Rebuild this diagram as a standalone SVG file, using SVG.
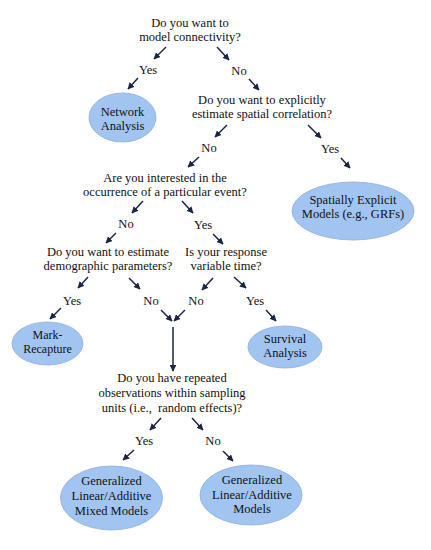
<svg xmlns="http://www.w3.org/2000/svg" width="431" height="550" viewBox="0 0 431 550">
<defs>
<marker id="ah" viewBox="0 0 10 10" refX="9" refY="5" markerWidth="4.5" markerHeight="4.5" orient="auto" markerUnits="strokeWidth">
<path d="M0,0 L10,5 L0,10 z" fill="#1b2442"/>
</marker>
<style>
text{font-family:"Liberation Serif","Times New Roman",serif;font-size:12.5px;fill:#111;text-anchor:middle}
.n{fill:#a2c4f1;stroke:#8eaedb;stroke-width:0.8}
.c line{stroke:#1b2442;stroke-width:1.5;marker-end:url(#ah)}
</style>
</defs>
<rect width="431" height="550" fill="#fff"/>
<g id="q1"><text x="190" y="27">Do you want to</text><text x="190" y="41">model connectivity?</text></g>
<g id="l1"><text x="148" y="74">Yes</text></g>
<g id="l2"><text x="239" y="75">No</text></g>
<g id="networkAnalysis"><ellipse class="n" cx="122.5" cy="117.5" rx="33.5" ry="24.5"/><text x="122.5" y="116">Network</text><text x="122.5" y="130">Analysis</text></g>
<g id="q2"><text x="262" y="104">Do you want to explicitly</text><text x="262" y="118">estimate spatial correlation?</text></g>
<g id="l3"><text x="209" y="152">No</text></g>
<g id="l4"><text x="330" y="153">Yes</text></g>
<g id="spatialModels"><ellipse class="n" cx="353" cy="211" rx="61" ry="29"/><text x="353" y="204">Spatially Explicit</text><text x="353" y="218">Models (e.g., GRFs)</text></g>
<g id="q3"><text x="165" y="182">Are you interested in the</text><text x="165" y="196">occurrence of a particular event?</text></g>
<g id="l5"><text x="126" y="228">No</text></g>
<g id="l6"><text x="203" y="229">Yes</text></g>
<g id="q4"><text x="108" y="256">Do you want to estimate</text><text x="108" y="270">demographic parameters?</text></g>
<g id="q5"><text x="226" y="256">Is your response</text><text x="226" y="270">variable time?</text></g>
<g id="l7"><text x="72" y="305">Yes</text></g>
<g id="l8"><text x="151" y="305">No</text></g>
<g id="l9"><text x="196" y="305">No</text></g>
<g id="l10"><text x="255" y="305">Yes</text></g>
<g id="markRecapture"><ellipse class="n" cx="47.5" cy="343.5" rx="35.5" ry="21.5"/><text x="47.5" y="339" style="font-size:12px">Mark-</text><text x="47.5" y="353" style="font-size:12px">Recapture</text></g>
<g id="survivalAnalysis"><ellipse class="n" cx="285" cy="347" rx="37" ry="21"/><text x="285" y="343">Survival</text><text x="285" y="357">Analysis</text></g>
<g id="q6"><text x="172" y="382">Do you have repeated</text><text x="172" y="397">observations within sampling</text><text x="172" y="412" style="white-space:pre">units (i.e.,  random effects)?</text></g>
<g id="l11"><text x="144" y="445">Yes</text></g>
<g id="l12"><text x="213" y="445">No</text></g>
<g id="glamm"><ellipse class="n" cx="111.5" cy="498" rx="51" ry="32"/><text x="111.5" y="485">Generalized</text><text x="111.5" y="500">Linear/Additive</text><text x="111.5" y="515">Mixed Models</text></g>
<g id="glam"><ellipse class="n" cx="251" cy="495" rx="51" ry="30"/><text x="252" y="484">Generalized</text><text x="252" y="499">Linear/Additive</text><text x="252" y="513">Models</text></g>
<g id="connectors" class="c">
<line x1="166" y1="47" x2="154" y2="59"/>
<line x1="217" y1="47" x2="229" y2="60"/>
<line x1="138" y1="78" x2="128" y2="89"/>
<line x1="249" y1="79" x2="259" y2="90"/>
<line x1="227" y1="125" x2="215" y2="137"/>
<line x1="308" y1="125" x2="321" y2="138"/>
<line x1="199" y1="157" x2="188" y2="167"/>
<line x1="341" y1="158" x2="350" y2="168"/>
<line x1="143" y1="201" x2="132" y2="213"/>
<line x1="182" y1="201" x2="193" y2="213"/>
<line x1="116" y1="233" x2="106" y2="243"/>
<line x1="213" y1="234" x2="223" y2="244"/>
<line x1="88" y1="277" x2="78" y2="288"/>
<line x1="129" y1="278" x2="140" y2="289"/>
<line x1="213" y1="278" x2="202" y2="290"/>
<line x1="234" y1="277" x2="246" y2="288"/>
<line x1="61" y1="308" x2="50" y2="319"/>
<line x1="161" y1="310" x2="172" y2="321"/>
<line x1="185" y1="310" x2="174" y2="321"/>
<line x1="266" y1="310" x2="276" y2="321"/>
<line x1="173" y1="327" x2="173" y2="371"/>
<line x1="161" y1="418" x2="150" y2="430"/>
<line x1="192" y1="418" x2="203" y2="430"/>
<line x1="134" y1="450" x2="123" y2="460"/>
<line x1="223" y1="451" x2="233" y2="461"/>
</g>
</svg>
